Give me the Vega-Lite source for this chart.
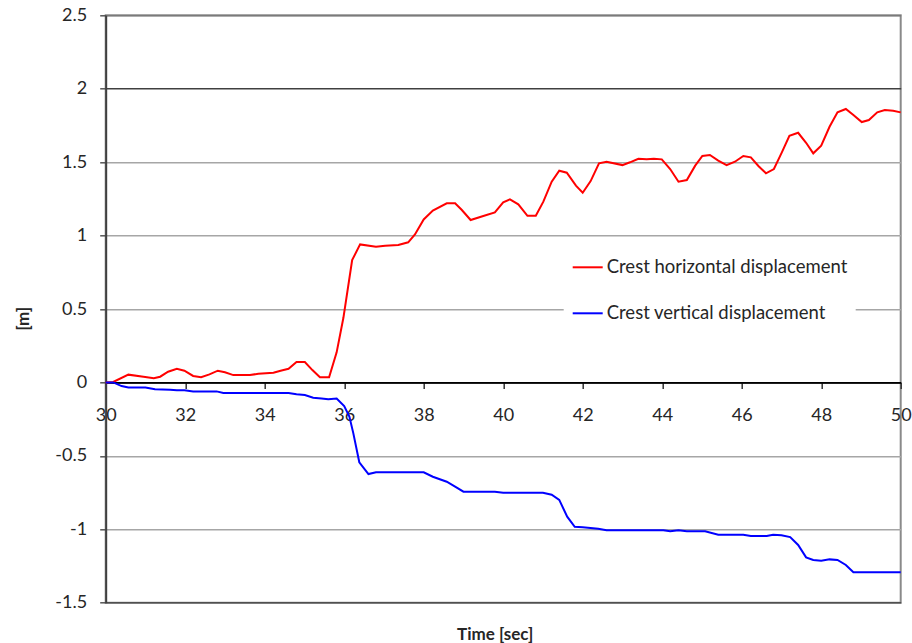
{
  "$schema": "https://vega.github.io/schema/vega-lite/v6.json",
  "width": 795,
  "height": 587.4,
  "autosize": {"type": "none"},
  "padding": {"left": 105.7, "top": 15.3, "right": 11.3, "bottom": 40.3},
  "background": "white",
  "config": {"font": "Lato", "view": {"stroke": "#8a8a8a", "strokeWidth": 2}},
  "data": {"values": [
    {"t": 30.0, "v": 0.0, "s": "Crest horizontal displacement"},
    {"t": 30.19, "v": 0.003, "s": "Crest horizontal displacement"},
    {"t": 30.57, "v": 0.053, "s": "Crest horizontal displacement"},
    {"t": 30.95, "v": 0.039, "s": "Crest horizontal displacement"},
    {"t": 31.21, "v": 0.028, "s": "Crest horizontal displacement"},
    {"t": 31.37, "v": 0.039, "s": "Crest horizontal displacement"},
    {"t": 31.57, "v": 0.073, "s": "Crest horizontal displacement"},
    {"t": 31.79, "v": 0.093, "s": "Crest horizontal displacement"},
    {"t": 31.98, "v": 0.08, "s": "Crest horizontal displacement"},
    {"t": 32.2, "v": 0.044, "s": "Crest horizontal displacement"},
    {"t": 32.4, "v": 0.035, "s": "Crest horizontal displacement"},
    {"t": 32.61, "v": 0.055, "s": "Crest horizontal displacement"},
    {"t": 32.82, "v": 0.08, "s": "Crest horizontal displacement"},
    {"t": 33.0, "v": 0.069, "s": "Crest horizontal displacement"},
    {"t": 33.21, "v": 0.05, "s": "Crest horizontal displacement"},
    {"t": 33.63, "v": 0.05, "s": "Crest horizontal displacement"},
    {"t": 33.84, "v": 0.059, "s": "Crest horizontal displacement"},
    {"t": 34.22, "v": 0.066, "s": "Crest horizontal displacement"},
    {"t": 34.4, "v": 0.08, "s": "Crest horizontal displacement"},
    {"t": 34.6, "v": 0.093, "s": "Crest horizontal displacement"},
    {"t": 34.8, "v": 0.139, "s": "Crest horizontal displacement"},
    {"t": 35.01, "v": 0.139, "s": "Crest horizontal displacement"},
    {"t": 35.2, "v": 0.084, "s": "Crest horizontal displacement"},
    {"t": 35.39, "v": 0.035, "s": "Crest horizontal displacement"},
    {"t": 35.62, "v": 0.035, "s": "Crest horizontal displacement"},
    {"t": 35.81, "v": 0.205, "s": "Crest horizontal displacement"},
    {"t": 35.98, "v": 0.44, "s": "Crest horizontal displacement"},
    {"t": 36.2, "v": 0.833, "s": "Crest horizontal displacement"},
    {"t": 36.4, "v": 0.94, "s": "Crest horizontal displacement"},
    {"t": 36.8, "v": 0.924, "s": "Crest horizontal displacement"},
    {"t": 37.03, "v": 0.931, "s": "Crest horizontal displacement"},
    {"t": 37.36, "v": 0.936, "s": "Crest horizontal displacement"},
    {"t": 37.61, "v": 0.954, "s": "Crest horizontal displacement"},
    {"t": 37.78, "v": 1.008, "s": "Crest horizontal displacement"},
    {"t": 38.0, "v": 1.11, "s": "Crest horizontal displacement"},
    {"t": 38.23, "v": 1.17, "s": "Crest horizontal displacement"},
    {"t": 38.58, "v": 1.22, "s": "Crest horizontal displacement"},
    {"t": 38.79, "v": 1.22, "s": "Crest horizontal displacement"},
    {"t": 38.96, "v": 1.174, "s": "Crest horizontal displacement"},
    {"t": 39.18, "v": 1.106, "s": "Crest horizontal displacement"},
    {"t": 39.5, "v": 1.133, "s": "Crest horizontal displacement"},
    {"t": 39.79, "v": 1.158, "s": "Crest horizontal displacement"},
    {"t": 40.0, "v": 1.226, "s": "Crest horizontal displacement"},
    {"t": 40.17, "v": 1.247, "s": "Crest horizontal displacement"},
    {"t": 40.38, "v": 1.213, "s": "Crest horizontal displacement"},
    {"t": 40.61, "v": 1.135, "s": "Crest horizontal displacement"},
    {"t": 40.82, "v": 1.135, "s": "Crest horizontal displacement"},
    {"t": 41.01, "v": 1.231, "s": "Crest horizontal displacement"},
    {"t": 41.22, "v": 1.367, "s": "Crest horizontal displacement"},
    {"t": 41.41, "v": 1.442, "s": "Crest horizontal displacement"},
    {"t": 41.6, "v": 1.428, "s": "Crest horizontal displacement"},
    {"t": 41.83, "v": 1.34, "s": "Crest horizontal displacement"},
    {"t": 42.0, "v": 1.292, "s": "Crest horizontal displacement"},
    {"t": 42.2, "v": 1.371, "s": "Crest horizontal displacement"},
    {"t": 42.41, "v": 1.492, "s": "Crest horizontal displacement"},
    {"t": 42.6, "v": 1.503, "s": "Crest horizontal displacement"},
    {"t": 43.0, "v": 1.48, "s": "Crest horizontal displacement"},
    {"t": 43.19, "v": 1.499, "s": "Crest horizontal displacement"},
    {"t": 43.4, "v": 1.523, "s": "Crest horizontal displacement"},
    {"t": 43.61, "v": 1.519, "s": "Crest horizontal displacement"},
    {"t": 43.79, "v": 1.523, "s": "Crest horizontal displacement"},
    {"t": 43.99, "v": 1.519, "s": "Crest horizontal displacement"},
    {"t": 44.2, "v": 1.453, "s": "Crest horizontal displacement"},
    {"t": 44.41, "v": 1.367, "s": "Crest horizontal displacement"},
    {"t": 44.62, "v": 1.378, "s": "Crest horizontal displacement"},
    {"t": 44.83, "v": 1.476, "s": "Crest horizontal displacement"},
    {"t": 45.01, "v": 1.542, "s": "Crest horizontal displacement"},
    {"t": 45.2, "v": 1.549, "s": "Crest horizontal displacement"},
    {"t": 45.41, "v": 1.51, "s": "Crest horizontal displacement"},
    {"t": 45.62, "v": 1.48, "s": "Crest horizontal displacement"},
    {"t": 45.83, "v": 1.503, "s": "Crest horizontal displacement"},
    {"t": 46.04, "v": 1.542, "s": "Crest horizontal displacement"},
    {"t": 46.23, "v": 1.533, "s": "Crest horizontal displacement"},
    {"t": 46.42, "v": 1.474, "s": "Crest horizontal displacement"},
    {"t": 46.61, "v": 1.424, "s": "Crest horizontal displacement"},
    {"t": 46.81, "v": 1.453, "s": "Crest horizontal displacement"},
    {"t": 47.01, "v": 1.567, "s": "Crest horizontal displacement"},
    {"t": 47.2, "v": 1.68, "s": "Crest horizontal displacement"},
    {"t": 47.42, "v": 1.7, "s": "Crest horizontal displacement"},
    {"t": 47.62, "v": 1.632, "s": "Crest horizontal displacement"},
    {"t": 47.8, "v": 1.56, "s": "Crest horizontal displacement"},
    {"t": 48.0, "v": 1.612, "s": "Crest horizontal displacement"},
    {"t": 48.21, "v": 1.741, "s": "Crest horizontal displacement"},
    {"t": 48.41, "v": 1.839, "s": "Crest horizontal displacement"},
    {"t": 48.62, "v": 1.862, "s": "Crest horizontal displacement"},
    {"t": 48.81, "v": 1.821, "s": "Crest horizontal displacement"},
    {"t": 49.02, "v": 1.773, "s": "Crest horizontal displacement"},
    {"t": 49.2, "v": 1.787, "s": "Crest horizontal displacement"},
    {"t": 49.41, "v": 1.839, "s": "Crest horizontal displacement"},
    {"t": 49.6, "v": 1.855, "s": "Crest horizontal displacement"},
    {"t": 49.81, "v": 1.85, "s": "Crest horizontal displacement"},
    {"t": 50.0, "v": 1.839, "s": "Crest horizontal displacement"},
    {"t": 30.0, "v": 0.0, "s": "Crest vertical displacement"},
    {"t": 30.19, "v": 0.0, "s": "Crest vertical displacement"},
    {"t": 30.4, "v": -0.025, "s": "Crest vertical displacement"},
    {"t": 30.57, "v": -0.034, "s": "Crest vertical displacement"},
    {"t": 31.0, "v": -0.034, "s": "Crest vertical displacement"},
    {"t": 31.24, "v": -0.047, "s": "Crest vertical displacement"},
    {"t": 31.62, "v": -0.05, "s": "Crest vertical displacement"},
    {"t": 31.79, "v": -0.054, "s": "Crest vertical displacement"},
    {"t": 31.98, "v": -0.054, "s": "Crest vertical displacement"},
    {"t": 32.2, "v": -0.061, "s": "Crest vertical displacement"},
    {"t": 32.79, "v": -0.061, "s": "Crest vertical displacement"},
    {"t": 32.96, "v": -0.072, "s": "Crest vertical displacement"},
    {"t": 34.6, "v": -0.072, "s": "Crest vertical displacement"},
    {"t": 34.8, "v": -0.081, "s": "Crest vertical displacement"},
    {"t": 35.01, "v": -0.086, "s": "Crest vertical displacement"},
    {"t": 35.22, "v": -0.104, "s": "Crest vertical displacement"},
    {"t": 35.43, "v": -0.109, "s": "Crest vertical displacement"},
    {"t": 35.6, "v": -0.115, "s": "Crest vertical displacement"},
    {"t": 35.81, "v": -0.109, "s": "Crest vertical displacement"},
    {"t": 36.0, "v": -0.161, "s": "Crest vertical displacement"},
    {"t": 36.13, "v": -0.233, "s": "Crest vertical displacement"},
    {"t": 36.23, "v": -0.347, "s": "Crest vertical displacement"},
    {"t": 36.38, "v": -0.544, "s": "Crest vertical displacement"},
    {"t": 36.61, "v": -0.624, "s": "Crest vertical displacement"},
    {"t": 36.8, "v": -0.612, "s": "Crest vertical displacement"},
    {"t": 38.0, "v": -0.612, "s": "Crest vertical displacement"},
    {"t": 38.23, "v": -0.642, "s": "Crest vertical displacement"},
    {"t": 38.58, "v": -0.676, "s": "Crest vertical displacement"},
    {"t": 38.79, "v": -0.71, "s": "Crest vertical displacement"},
    {"t": 39.0, "v": -0.744, "s": "Crest vertical displacement"},
    {"t": 39.79, "v": -0.744, "s": "Crest vertical displacement"},
    {"t": 40.0, "v": -0.751, "s": "Crest vertical displacement"},
    {"t": 41.0, "v": -0.751, "s": "Crest vertical displacement"},
    {"t": 41.22, "v": -0.765, "s": "Crest vertical displacement"},
    {"t": 41.41, "v": -0.8, "s": "Crest vertical displacement"},
    {"t": 41.61, "v": -0.914, "s": "Crest vertical displacement"},
    {"t": 41.8, "v": -0.983, "s": "Crest vertical displacement"},
    {"t": 42.0, "v": -0.987, "s": "Crest vertical displacement"},
    {"t": 42.39, "v": -0.996, "s": "Crest vertical displacement"},
    {"t": 42.6, "v": -1.007, "s": "Crest vertical displacement"},
    {"t": 44.03, "v": -1.007, "s": "Crest vertical displacement"},
    {"t": 44.2, "v": -1.014, "s": "Crest vertical displacement"},
    {"t": 44.41, "v": -1.007, "s": "Crest vertical displacement"},
    {"t": 44.62, "v": -1.014, "s": "Crest vertical displacement"},
    {"t": 45.08, "v": -1.014, "s": "Crest vertical displacement"},
    {"t": 45.41, "v": -1.037, "s": "Crest vertical displacement"},
    {"t": 46.04, "v": -1.037, "s": "Crest vertical displacement"},
    {"t": 46.23, "v": -1.046, "s": "Crest vertical displacement"},
    {"t": 46.63, "v": -1.046, "s": "Crest vertical displacement"},
    {"t": 46.79, "v": -1.037, "s": "Crest vertical displacement"},
    {"t": 47.0, "v": -1.041, "s": "Crest vertical displacement"},
    {"t": 47.22, "v": -1.053, "s": "Crest vertical displacement"},
    {"t": 47.42, "v": -1.107, "s": "Crest vertical displacement"},
    {"t": 47.62, "v": -1.191, "s": "Crest vertical displacement"},
    {"t": 47.8, "v": -1.209, "s": "Crest vertical displacement"},
    {"t": 48.0, "v": -1.214, "s": "Crest vertical displacement"},
    {"t": 48.21, "v": -1.205, "s": "Crest vertical displacement"},
    {"t": 48.41, "v": -1.209, "s": "Crest vertical displacement"},
    {"t": 48.62, "v": -1.243, "s": "Crest vertical displacement"},
    {"t": 48.81, "v": -1.293, "s": "Crest vertical displacement"},
    {"t": 50.0, "v": -1.293, "s": "Crest vertical displacement"}
  ]},
  "mark": {"type": "line", "strokeWidth": 2},
  "encoding": {
    "x": {
      "field": "t", "type": "quantitative",
      "scale": {"domain": [30, 50], "nice": false, "zero": false},
      "axis": {
        "orient": "bottom", "offset": -220.3,
        "values": [30, 32, 34, 36, 38, 40, 42, 44, 46, 48, 50],
        "labelExpr": "'' + datum.value",
        "grid": false,
        "domainColor": "#000000", "domainWidth": 1.5,
        "tickColor": "#333333", "tickSize": 6, "tickWidth": 1.5,
        "labelPadding": 18, "labelFontSize": 18, "labelColor": "#262626",
        "labelFlush": false, "labelOverlap": false,
        "title": "Time [sec]", "titleFontSize": 17, "titleFontWeight": "bold", "titleColor": "#262626",
        "titleX": 389, "titleY": 251.6, "titleBaseline": "middle", "titleAlign": "center"
      }
    },
    "y": {
      "field": "v", "type": "quantitative",
      "scale": {"domain": [-1.5, 2.5], "nice": false, "zero": false},
      "axis": {
        "values": [-1.5, -1, -0.5, 0, 0.5, 1, 1.5, 2, 2.5],
        "labelExpr": "'' + datum.value",
        "grid": true,
        "gridColor": {"condition": [
          {"test": "datum.value === 2", "value": "#404040"},
          {"test": "datum.value === 0", "value": "#000000"},
          {"test": "datum.value === -1.5", "value": "#505050"},
          {"test": "datum.value === 2.5", "value": "#7a7a7a"}
        ], "value": "#a6a6a6"},
        "gridWidth": 1.5,
        "domainColor": "#404040", "domainWidth": 2,
        "tickColor": "#555555", "tickSize": 6, "tickWidth": 1.5,
        "labelPadding": 13, "labelFontSize": 18, "labelColor": "#262626",
        "labelOverlap": false, "labelFlush": false,
        "title": "[m]", "titleFontSize": 17, "titleFontWeight": "bold", "titleColor": "#262626",
        "titleX": -82.7, "titleY": 303, "titleAngle": 270, "titleBaseline": "middle", "titleAlign": "center"
      }
    },
    "color": {
      "field": "s", "type": "nominal",
      "scale": {"domain": ["Crest horizontal displacement", "Crest vertical displacement"], "range": ["#ff0000", "#0000ff"]},
      "legend": {
        "orient": "none", "legendX": 458, "legendY": 228, "title": null,
        "symbolType": "stroke", "symbolSize": 900, "symbolStrokeWidth": 2,
        "labelFontSize": 18.5, "labelOffset": 3, "labelColor": "#262626", "labelLimit": 400,
        "rowPadding": 20, "padding": 8, "fillColor": "white", "strokeColor": null
      }
    }
  }
}
